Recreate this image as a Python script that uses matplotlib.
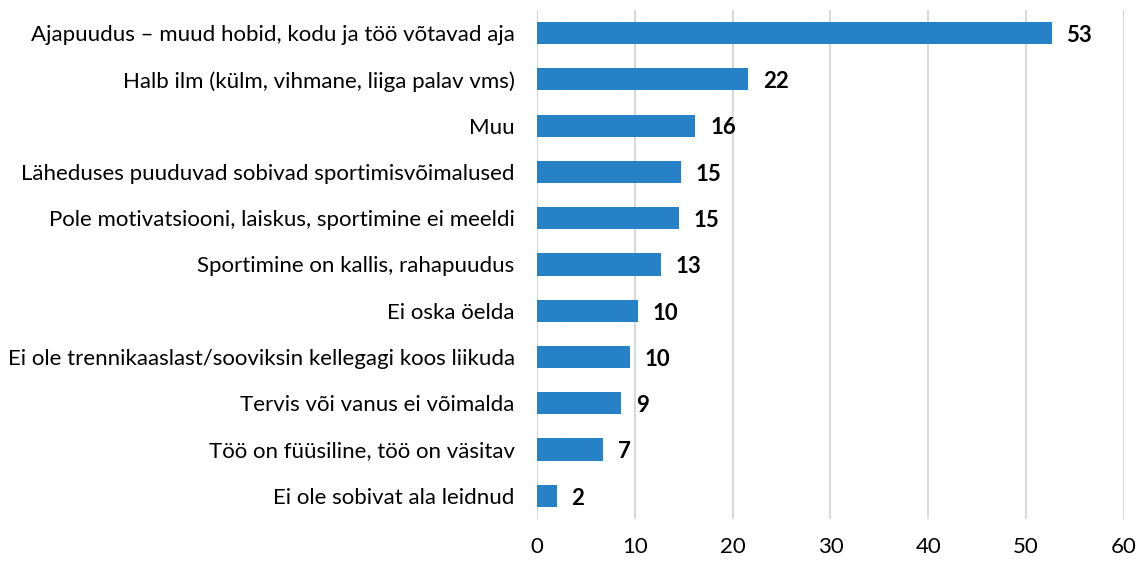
import matplotlib.pyplot as plt
import numpy as np

# Andmed (ülevalt alla)
categories = [
    'Ajapuudus – muud hobid, kodu ja töö võtavad aja',
    'Halb ilm (külm, vihmane, liiga palav vms)',
    'Muu',
    'Läheduses puuduvad sobivad sportimisvõimalused',
    'Pole motivatsiooni, laiskus, sportimine ei meeldi',
    'Sportimine on kallis, rahapuudus',
    'Ei oska öelda',
    'Ei ole trennikaaslast/sooviksin kellegagi koos liikuda',
    'Tervis või vanus ei võimalda',
    'Töö on füüsiline, töö on väsitav',
    'Ei ole sobivat ala leidnud',
]
values = [52.6, 21.6, 16.2, 14.7, 14.5, 12.7, 10.3, 9.5, 8.6, 6.8, 2.0]
labels = ['53', '22', '16', '15', '15', '13', '10', '10', '9', '7', '2']
x_ticks = [0, 10, 20, 30, 40, 50, 60]

plt.rcParams['font.family'] = ['Lato', 'DejaVu Sans']

fig = plt.figure(figsize=(11.41, 5.61), dpi=100)
ax = fig.add_axes([0.4706, 0.0749, 0.5145, 0.9073])

y = np.arange(len(categories))
ax.barh(y, values, height=0.48, color='#2781C6', zorder=3)

for yi, v, lab in zip(y, values, labels):
    ax.text(v + 1.5, yi + 0.05, lab, va='center', ha='left',
            fontsize=16, fontweight='bold', color='black')

ax.set_xlim(0, 60)
ax.set_ylim(len(categories) - 0.5, -0.5)
ax.set_xticks(x_ticks)
ax.set_xticklabels([str(t) for t in x_ticks], fontsize=16)
ax.set_yticks(y)
ax.set_yticklabels(categories, fontsize=16)

ax.xaxis.grid(True, color='#D9D9D9', linewidth=1.5, zorder=0)
ax.yaxis.grid(False)
for s in ax.spines.values():
    s.set_visible(False)
ax.axvline(0, color='#D9D9D9', linewidth=1.5, zorder=1)
ax.tick_params(axis='both', length=0)
ax.tick_params(axis='x', pad=13)
ax.tick_params(axis='y', pad=16)

fig.savefig('out.png', dpi=100)
